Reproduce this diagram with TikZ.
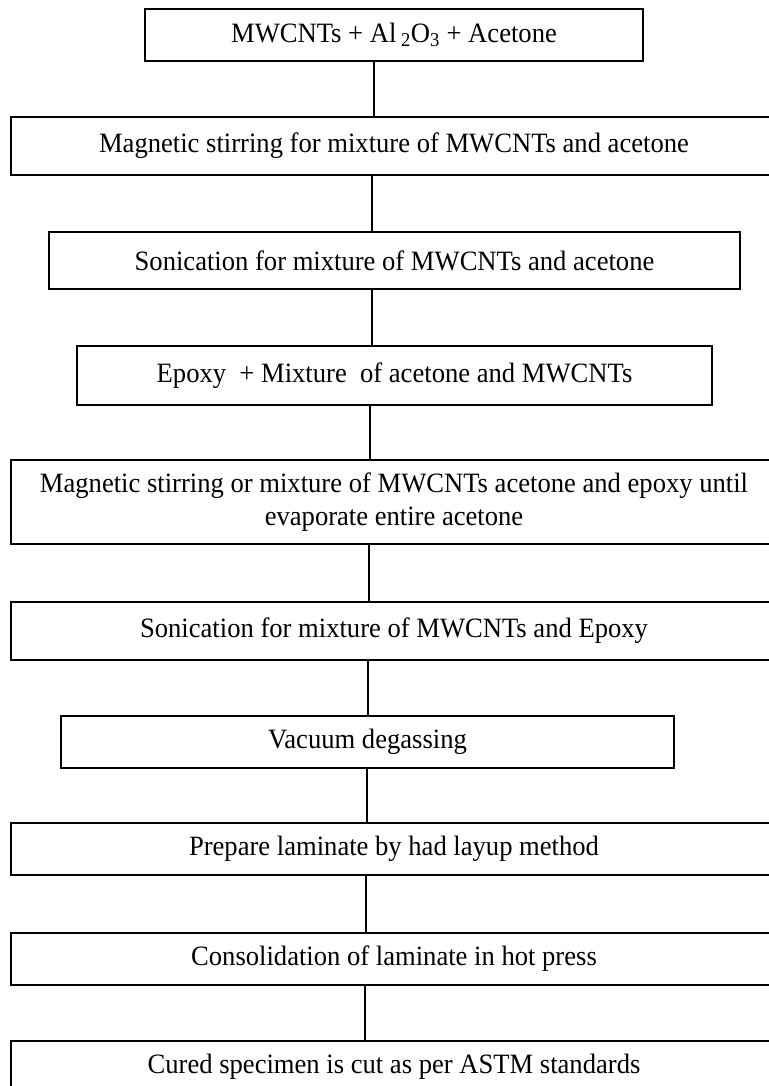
\documentclass[tikz,border=0pt]{standalone}
\usepackage{fontspec}
\setmainfont[FakeStretch=0.95]{Liberation Serif}
\begin{document}
\begin{tikzpicture}[x=1pt,y=-1pt,
  box/.style={draw, line width=1.8pt, inner sep=0pt, align=center,
    font=\fontsize{28}{33}\selectfont},
  wide/.style={box, minimum width=766pt, minimum height=52pt},
  link/.style={line width=1.8pt}]
\useasboundingbox (0,0) rectangle (768,1086);
\node[box, minimum width=498pt, minimum height=52pt] (b1) at (394,35) {MWCNTs + Al\,\textsubscript{2}O\textsubscript{3} + Acetone};
\node[wide, minimum height=58pt] (b2) at (394,146) {Magnetic stirring for mixture of MWCNTs and acetone};
\node[box, minimum width=691pt, minimum height=57pt] (b3) at (394.5,260.5) {Sonication for mixture of MWCNTs and acetone};
\node[box, minimum width=635pt, minimum height=59pt] (b4) at (394.5,375.5) {Epoxy\ \ + Mixture\ \ of acetone and MWCNTs};
\node[wide, minimum height=84pt] (b5) at (394,502) {Magnetic stirring or mixture of MWCNTs acetone and epoxy until\\evaporate entire acetone};
\node[wide, minimum height=58pt] (b6) at (394,631) {Sonication for mixture of MWCNTs and Epoxy};
\node[box, minimum width=613pt, minimum height=52pt] (b7) at (367.5,742) {Vacuum degassing};
\node[wide] (b8) at (394,849) {Prepare laminate by had layup method};
\node[wide] (b9) at (394,959) {Consolidation of laminate in hot press};
\node[wide] (b10) at (394,1067) {Cured specimen is cut as per ASTM standards};
\coordinate (c1) at (374,0);
\coordinate (c2) at (372,0);
\coordinate (c3) at (372,0);
\coordinate (c4) at (370,0);
\coordinate (c5) at (369,0);
\coordinate (c6) at (368,0);
\coordinate (c7) at (367,0);
\coordinate (c8) at (366,0);
\coordinate (c9) at (365,0);
\draw[link] (b1.south -| c1) -- (b2.north -| c1);
\draw[link] (b2.south -| c2) -- (b3.north -| c2);
\draw[link] (b3.south -| c3) -- (b4.north -| c3);
\draw[link] (b4.south -| c4) -- (b5.north -| c4);
\draw[link] (b5.south -| c5) -- (b6.north -| c5);
\draw[link] (b6.south -| c6) -- (b7.north -| c6);
\draw[link] (b7.south -| c7) -- (b8.north -| c7);
\draw[link] (b8.south -| c8) -- (b9.north -| c8);
\draw[link] (b9.south -| c9) -- (b10.north -| c9);
\end{tikzpicture}
\end{document}
